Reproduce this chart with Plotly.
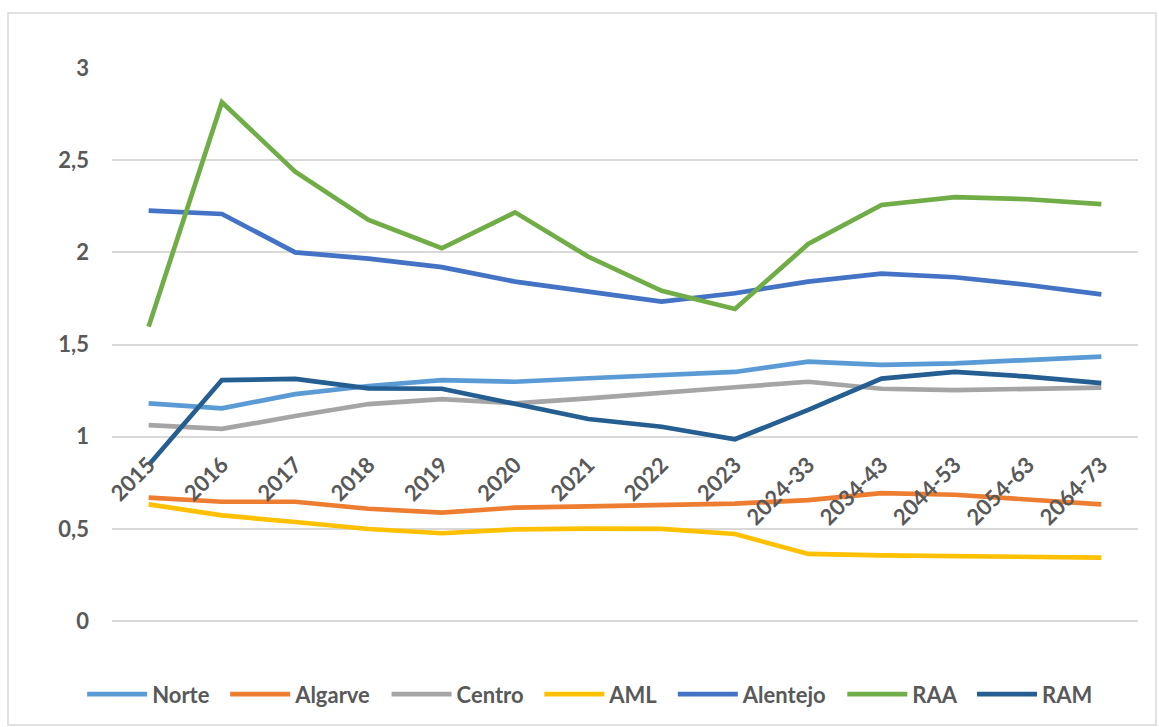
import plotly.graph_objects as go

categories = ["2015", "2016", "2017", "2018", "2019", "2020", "2021", "2022", "2023",
              "2024-33", "2034-43", "2044-53", "2054-63", "2064-73"]

norte = [1.181, 1.154, 1.231, 1.275, 1.307, 1.298, 1.317, 1.335, 1.351, 1.407, 1.389, 1.398, 1.416, 1.434]
algarve = [0.669, 0.647, 0.647, 0.609, 0.588, 0.615, 0.622, 0.628, 0.637, 0.656, 0.694, 0.685, 0.662, 0.633]
centro = [1.063, 1.042, 1.112, 1.177, 1.204, 1.181, 1.208, 1.235, 1.268, 1.298, 1.260, 1.253, 1.257, 1.266]
aml = [0.633, 0.573, 0.537, 0.499, 0.476, 0.497, 0.501, 0.500, 0.472, 0.364, 0.356, 0.353, 0.349, 0.344]
alentejo = [2.226, 2.208, 2.000, 1.966, 1.920, 1.841, 1.787, 1.733, 1.778, 1.841, 1.884, 1.865, 1.823, 1.772]
raa = [1.597, 2.814, 2.438, 2.176, 2.022, 2.217, 1.976, 1.791, 1.693, 2.045, 2.257, 2.299, 2.288, 2.262]
ram = [0.846, 1.307, 1.313, 1.262, 1.260, 1.176, 1.096, 1.054, 0.986, 1.145, 1.315, 1.351, 1.326, 1.290]

series_names = ["Norte", "Algarve", "Centro", "AML", "Alentejo", "RAA", "RAM"]
series_values = [norte, algarve, centro, aml, alentejo, raa, ram]
series_colors = ["#5B9BD5", "#ED7D31", "#A5A5A5", "#FFC000", "#4472C4", "#70AD47", "#255E91"]

y_tickvals = [0, 0.5, 1, 1.5, 2, 2.5, 3]
y_ticktext = ["0", "0,5", "1", "1,5", "2", "2,5", "3"]

FONT = "Lato"
TXT = "#595959"
GRID = "#D9D9D9"
PAD = "\u00a0\u00a0"  # extra spacing after legend labels

fig = go.Figure()
for name, vals, col in zip(series_names, series_values, series_colors):
    fig.add_trace(go.Scatter(x=categories, y=vals, name=name + PAD, mode="lines",
                             line=dict(color=col, width=4.7)))

W, H = 1159, 727
ml, mr, mt, mb = 112, 21, 68, 106
pw, ph = W - ml - mr, H - mt - mb

def px_to_paper_x(px):
    return (px - ml) / pw

def px_to_paper_y(py):
    return (H - mb - py) / ph

fig.update_layout(
    width=W, height=H,
    margin=dict(l=ml, r=mr, t=mt, b=mb, autoexpand=False),
    paper_bgcolor="white", plot_bgcolor="white",
    font=dict(family=FONT, color=TXT, size=22, weight="bold"),
    showlegend=True,
    legend=dict(orientation="h", xref="container", x=0.5135, xanchor="center",
                yref="container", y=0.045, yanchor="middle",
                font=dict(family=FONT, size=22, color=TXT, weight="bold"),
                itemwidth=60, traceorder="normal"),
    xaxis=dict(type="category", range=[-0.5, len(categories) - 0.5],
               showgrid=False, showline=False, zeroline=False, ticks="",
               tickangle=-45, anchor="free", position=1/3, automargin=False,
               ticklabelstandoff=10,
               tickfont=dict(family=FONT, size=22, color=TXT, weight="bold")),
    yaxis=dict(range=[0, 3], tickvals=y_tickvals, ticktext=y_ticktext,
               showgrid=True, gridcolor=GRID, gridwidth=1.5,
               zeroline=True, zerolinecolor=GRID, zerolinewidth=1.5,
               showline=False, ticks="", ticklabelstandoff=22, automargin=False,
               tickfont=dict(family=FONT, size=22, color=TXT, weight="bold")),
    shapes=[dict(type="rect", xref="paper", yref="paper",
                 x0=px_to_paper_x(8), x1=px_to_paper_x(1156),
                 y0=px_to_paper_y(725), y1=px_to_paper_y(13),
                 line=dict(color=GRID, width=1.5), fillcolor="rgba(0,0,0,0)",
                 layer="below")],
)

fig.write_html("out.html", config={"displayModeBar": False},
               post_script="document.body.style.margin='0';document.body.style.overflow='hidden';")
